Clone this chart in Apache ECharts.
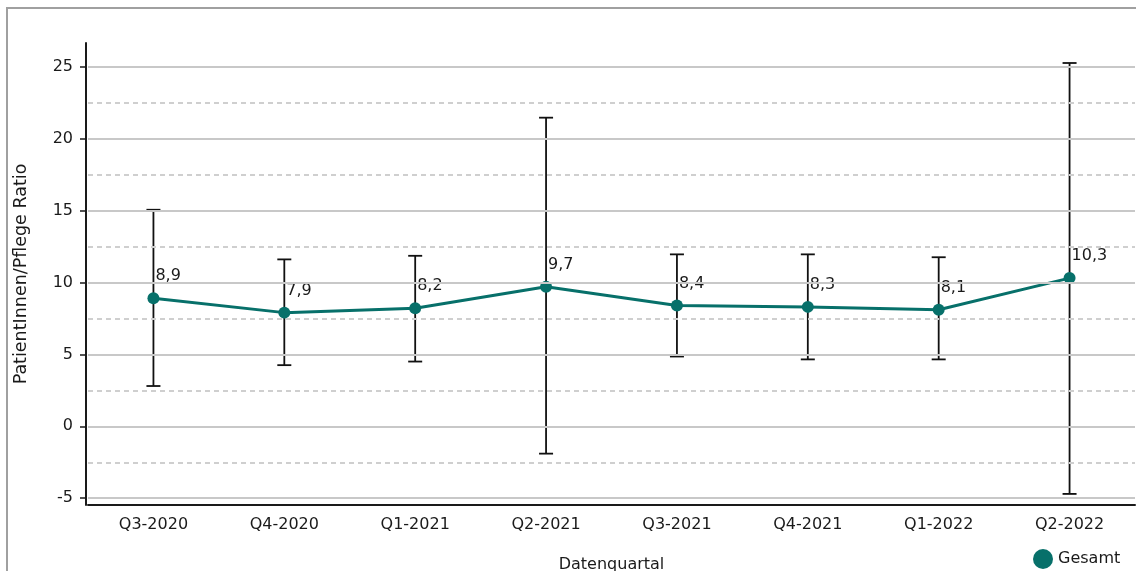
<!DOCTYPE html>
<html>
<head>
<meta charset="utf-8">
<script src="https://cdn.jsdelivr.net/npm/echarts@6/dist/echarts.min.js"></script>
<style>
html,body{margin:0;padding:0;background:#fff;}
#chart{width:1136px;height:571px;}
</style>
</head>
<body>
<div id="chart"></div>
<script>
const categories = ['Q3-2020','Q4-2020','Q1-2021','Q2-2021','Q3-2021','Q4-2021','Q1-2022','Q2-2022'];
const values = [8.9, 7.9, 8.2, 9.7, 8.4, 8.3, 8.1, 10.3];
const lower = [2.8, 4.25, 4.5, -1.9, 4.85, 4.65, 4.65, -4.7];
const upper = [15.05, 11.6, 11.85, 21.45, 11.95, 11.95, 11.75, 25.25];
const yMajorTicks = [-5, 0, 5, 10, 15, 20, 25];
const yMinorTicks = [-2.5, 2.5, 7.5, 12.5, 17.5, 22.5];
const yMin = -5.47;
const yMax = 26.64;

const FONT = 'DejaVu Sans';
const TXT = '#1a1a1a';
const TEAL = '#07706a';

const chart = echarts.init(document.getElementById('chart'), null, {renderer: 'canvas'});

const gridLineData = [];
yMajorTicks.forEach(v => gridLineData.push({yAxis: v, lineStyle: {color: '#c8c8c8', width: 2, type: 'solid'}}));
yMinorTicks.forEach(v => gridLineData.push({yAxis: v, lineStyle: {color: '#cfcfcf', width: 2, type: [5, 4]}}));

const option = {
  animation: false,
  backgroundColor: '#fff',
  graphic: [{
    type: 'rect', z: -10, silent: true,
    shape: {x: 7, y: 8, width: 1300, height: 700},
    style: {fill: 'none', stroke: '#a0a0a0', lineWidth: 2}
  }],
  grid: {left: 88, right: 1, top: 43, bottom: 66, containLabel: false, outerBoundsMode: 'none'},
  legend: {
    data: ['Gesamt'], left: 1028, top: 544, icon: 'circle',
    itemWidth: 20, itemHeight: 20, itemGap: 6,
    textStyle: {fontFamily: FONT, fontSize: 16, color: TXT}
  },
  xAxis: {
    type: 'category', data: categories, boundaryGap: true,
    name: 'Datenquartal', nameLocation: 'middle', nameGap: 52,
    nameTextStyle: {fontFamily: FONT, fontSize: 16, color: TXT},
    axisLine: {onZero: false, lineStyle: {color: TXT, width: 2}},
    axisTick: {alignWithLabel: true, length: 6, lineStyle: {color: TXT, width: 1.5}},
    axisLabel: {fontFamily: FONT, fontSize: 16, color: TXT, margin: 12},
    splitLine: {show: false}
  },
  yAxis: {
    type: 'value', min: yMin, max: yMax, offset: 2,
    name: 'PatientInnen/Pflege Ratio', nameLocation: 'middle', nameGap: 56,
    nameTextStyle: {fontFamily: FONT, fontSize: 17.5, color: TXT},
    axisLine: {show: true, onZero: false, lineStyle: {color: TXT, width: 2}},
    axisTick: {show: true, customValues: yMajorTicks, length: 6, lineStyle: {color: TXT, width: 1.5}},
    axisLabel: {customValues: yMajorTicks, fontFamily: FONT, fontSize: 16, color: TXT, margin: 13},
    splitLine: {show: false}
  },
  series: [
    {
      name: 'grid', type: 'line', data: [], z: 1, silent: true,
      markLine: {silent: true, symbol: 'none', label: {show: false}, animation: false, data: gridLineData}
    },
    {
      name: 'errors', type: 'custom', z: 2, silent: true,
      data: categories.map((c, i) => [i, lower[i], upper[i]]),
      encode: {x: 0, y: [1, 2]},
      renderItem: function (params, api) {
        const x = api.value(0);
        const pLo = api.coord([x, api.value(1)]);
        const pHi = api.coord([x, api.value(2)]);
        const hw = 7;
        const st = {stroke: '#111', lineWidth: 1.8};
        return {
          type: 'group',
          children: [
            {type: 'line', shape: {x1: pLo[0], y1: pLo[1], x2: pHi[0], y2: pHi[1]}, style: st},
            {type: 'line', shape: {x1: pHi[0] - hw, y1: pHi[1], x2: pHi[0] + hw, y2: pHi[1]}, style: st},
            {type: 'line', shape: {x1: pLo[0] - hw, y1: pLo[1], x2: pLo[0] + hw, y2: pLo[1]}, style: st}
          ]
        };
      }
    },
    {
      name: 'Gesamt', type: 'line', z: 3, data: values,
      symbol: 'circle', symbolSize: 12,
      lineStyle: {color: TEAL, width: 3},
      itemStyle: {color: TEAL},
      label: {
        show: true, position: 'top', align: 'left', distance: 8, offset: [2, 0],
        fontFamily: FONT, fontSize: 16, color: TXT,
        formatter: p => p.value.toFixed(1).replace('.', ',')
      }
    }
  ]
};
chart.setOption(option);
</script>
</body>
</html>
